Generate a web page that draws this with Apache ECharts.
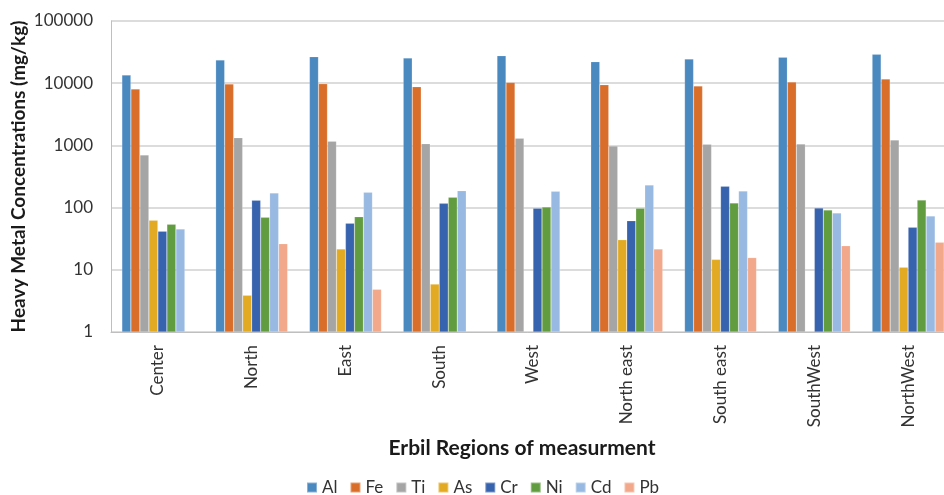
<!DOCTYPE html>
<html><head><meta charset="utf-8">
<script src="https://cdn.jsdelivr.net/npm/echarts@6/dist/echarts.min.js"></script>
<style>html,body{margin:0;padding:0;background:#fff}#c{width:944px;height:495px}</style>
</head><body><div id="c"></div>
<script>
const categories = ['Center','North','East','South','West','North east','South east','SouthWest','NorthWest'];
const Al = [13500, 23600, 26700, 25400, 27700, 22200, 24500, 26100, 29100];
const Fe = [8070, 9710, 9820, 8790, 10300, 9460, 9020, 10450, 11700];
const Ti = [701, 1330, 1164, 1065, 1300, 978, 1041, 1054, 1222];
const As = [62.5, 3.9, 21.6, 5.9, null, 30.5, 14.7, null, 11];
const Cr = [41.6, 131, 55.9, 117, 97.5, 61.6, 220, 98.6, 48.2];
const Ni = [53.9, 69.8, 71.4, 146.5, 102, 97.5, 119, 91.5, 132];
const Cd = [45.3, 172, 176, 187, 183, 231, 185, 81.9, 73.3];
const Pb = [null, 26.3, 4.86, null, null, 21.6, 15.7, 24.4, 27.7];
const yTicks = ['1','10','100','1000','10000','100000'];

const seriesDefs = [
  ['Al', Al, '#4a88c0'], ['Fe', Fe, '#d96e2b'], ['Ti', Ti, '#a5a5a5'], ['As', As, '#e2aa22'],
  ['Cr', Cr, '#3763ae'], ['Ni', Ni, '#629c40'], ['Cd', Cd, '#98b9e1'], ['Pb', Pb, '#f2a88a']
];
const font = 'Lato, "Open Sans", sans-serif';
const chart = echarts.init(document.getElementById('c'));
chart.setOption({
  animation: false,
  textStyle: { fontFamily: font },
  grid: { left: 111, width: 844, top: 21, bottom: 163, containLabel: false, outerBoundsMode: 'none' },
  title: { text: 'Erbil Regions of measurment', left: 517, top: 433, textAlign: 'center',
    textStyle: { fontFamily: font, fontSize: 21, fontWeight: 'bold', color: '#1a1a1a' } },
  legend: { left: 301, top: 474, itemWidth: 10, itemHeight: 10, itemGap: 12, icon: 'rect',
    textStyle: { fontFamily: font, fontSize: 17, color: '#333' },
    data: seriesDefs.map(s => s[0]) },
  xAxis: { type: 'category', data: categories,
    axisLine: { lineStyle: { color: '#bfbfbf', width: 1 } },
    axisTick: { show: false },
    axisLabel: { rotate: 90, margin: 13, fontSize: 17, color: '#333', fontFamily: font } },
  yAxis: { type: 'log', logBase: 10, min: 1, max: 100000,
    name: 'Heavy Metal Concentrations (mg/kg)', nameLocation: 'middle', nameGap: 83,
    nameMoveOverlap: false,
    nameTextStyle: { fontFamily: font, fontSize: 19, fontWeight: 'bold', color: '#1a1a1a' },
    axisLine: { show: true, lineStyle: { color: '#bfbfbf' } },
    axisTick: { show: false },
    splitLine: { lineStyle: { color: '#d0d0d0', width: 1.5 } },
    axisLabel: { fontSize: 17, color: '#333', margin: 18, fontFamily: font,
      formatter: v => yTicks.includes(String(Math.round(v))) ? String(Math.round(v)) : '' } },
  series: seriesDefs.map(s => ({
    name: s[0], type: 'bar', data: s[1], barWidth: 9, barGap: '0%',
    itemStyle: { color: s[2], borderColor: 'rgba(255,255,255,0.35)', borderWidth: 0.5 }
  }))
});
</script></body></html>
